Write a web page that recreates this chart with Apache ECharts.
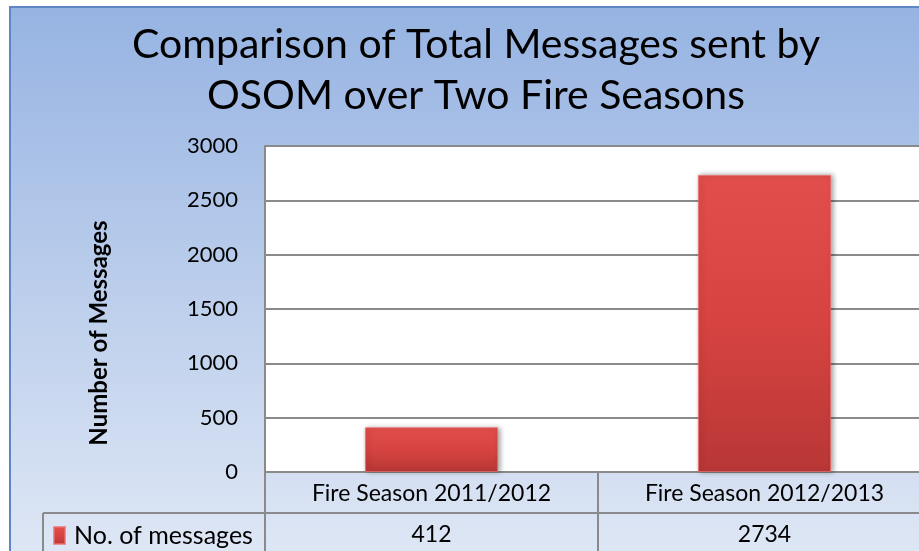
<!DOCTYPE html>
<html>
<head>
<meta charset="utf-8">
<script src="https://cdn.jsdelivr.net/npm/echarts@6/dist/echarts.min.js"></script>
<style>
  html, body { margin: 0; padding: 0; background: #fff; overflow: hidden; }
  #chart { width: 940px; height: 551px; }
</style>
</head>
<body>
<div id="chart"></div>
<script>
// 数据
var categories = ["Fire Season 2011/2012", "Fire Season 2012/2013"];
var seriesName = "No. of messages";
var messages = [412, 2734];
var yTicks = { min: 0, max: 3000, interval: 500 };

var FONT = "Lato";
var gridColor = "#8a8a8a";

// 图表比窗口略宽，右侧被裁掉，和原图一样
var chart = echarts.init(document.getElementById("chart"));

var option = {
  animation: false,
  textStyle: { fontFamily: FONT },
  title: {
    text: "Comparison of Total Messages sent by\nOSOM over Two Fire Seasons",
    left: 471,
    textAlign: "center",
    top: 14,
    textStyle: { fontFamily: FONT, fontSize: 41, fontWeight: "normal", color: "#000", lineHeight: 51 }
  },
  legend: {
    left: 48,
    top: 518,
    itemWidth: 11,
    itemHeight: 17,
    itemGap: 4,
    selectedMode: false,
    icon: "rect",
    textStyle: { fontFamily: FONT, fontSize: 25, color: "#000", padding: [0, 0, 0, 4] },
    data: [seriesName]
  },
  grid: {
    left: 265,
    top: 146,
    width: 666,
    height: 326,
    show: true,
    backgroundColor: "#fff",
    borderWidth: 0
  },
  xAxis: [
    {
      type: "category",
      data: categories,
      position: "bottom",
      axisLine: { show: true, lineStyle: { color: gridColor, width: 2 } },
      axisTick: { show: true, alignWithLabel: false, length: 80, lineStyle: { color: gridColor, width: 2 } },
      axisLabel: { fontSize: 23, color: "#000", margin: 10, fontFamily: FONT }
    },
    {
      type: "category",
      data: categories,
      position: "bottom",
      offset: 41,
      axisLine: { show: true, lineStyle: { color: gridColor, width: 2 } },
      axisTick: { show: false },
      axisLabel: {
        fontSize: 23, color: "#000", margin: 10, fontFamily: FONT,
        formatter: function (v, i) { return String(messages[i]); }
      }
    }
  ],
  yAxis: {
    type: "value",
    min: yTicks.min,
    max: yTicks.max,
    interval: yTicks.interval,
    name: "Number of Messages",
    nameLocation: "middle",
    nameGap: 154,
    nameTextStyle: { fontFamily: FONT, fontSize: 24, fontWeight: "bold", color: "#000", padding: [0, 48, 0, 0] },
    axisLine: { show: true, lineStyle: { color: gridColor, width: 2 } },
    axisTick: { show: false },
    axisLabel: {
      fontSize: 22, color: "#000", margin: 27, fontFamily: FONT,
      padding: [8, 0, 0, 0],
      formatter: function (v) { return String(v); }
    },
    splitLine: { show: true, lineStyle: { color: gridColor, width: 2 } }
  },
  series: [
    {
      name: seriesName,
      type: "bar",
      data: messages,
      barWidth: "40%",
      itemStyle: {
        color: new echarts.graphic.LinearGradient(0, 0, 0, 1, [
          { offset: 0, color: "#e24e4b" },
          { offset: 0.5, color: "#d64341" },
          { offset: 1, color: "#b83736" }
        ]),
        borderColor: "rgba(240,110,110,0.7)",
        borderWidth: 1,
        shadowBlur: 5,
        shadowColor: "rgba(0,0,0,0.35)",
        shadowOffsetX: 2,
        shadowOffsetY: 0
      }
    }
  ],
  graphic: [
    {
      type: "rect",
      z: -10,
      silent: true,
      shape: { x: 10, y: 7, width: 940, height: 560 },
      style: {
        fill: new echarts.graphic.LinearGradient(0, 0, 0, 1, [
          { offset: 0, color: "#96b3e2" },
          { offset: 1, color: "#e0e8f5" }
        ]),
        stroke: "#5f86c4",
        lineWidth: 2
      }
    },
    {
      type: "line",
      silent: true,
      shape: { x1: 43, y1: 513, x2: 265, y2: 513 },
      style: { stroke: gridColor, lineWidth: 2 }
    },
    {
      type: "line",
      silent: true,
      shape: { x1: 43, y1: 513, x2: 43, y2: 560 },
      style: { stroke: gridColor, lineWidth: 2 }
    }
  ]
};

chart.setOption(option);
</script>
</body>
</html>
